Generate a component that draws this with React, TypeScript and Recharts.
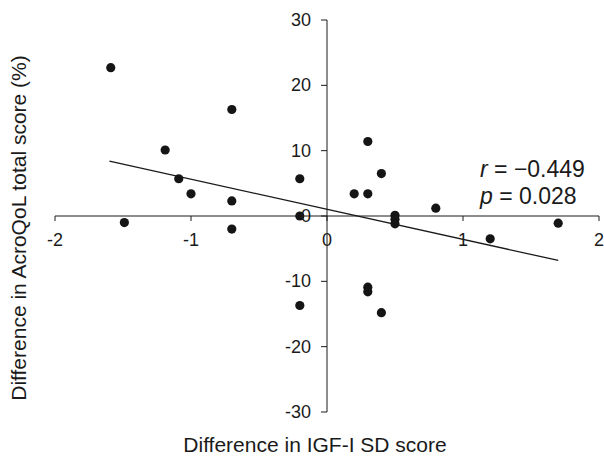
import React from "react";
import {
  ScatterChart,
  Scatter,
  XAxis,
  YAxis,
  ReferenceLine,
} from "recharts";

// values
const igfDiff = [
  -1.59, -0.7, -1.19, -1.09, -1.0, -0.7, -0.2, -0.2, -1.49, -0.7, -0.2, 0.3,
  0.4, 0.2, 0.3, 0.5, 0.8, 1.7, 0.5, 0.5, 1.2, 0.3, 0.3, 0.4,
];
const qolDiff = [
  22.7, 16.3, 10.1, 5.7, 3.4, 2.3, 5.7, 0.0, -1.0, -2.0, -13.7, 11.4, 6.5,
  3.4, 3.4, 0.1, 1.2, -1.1, -0.5, -1.2, -3.5, -10.9, -11.6, -14.8,
];
const fitLine = [
  { x: -1.6, y: 8.4 },
  { x: 1.7, y: -6.8 },
];
const xTicks = [-2, -1, 0, 1, 2];
const yTicks = [-30, -20, -10, 0, 10, 20, 30];
const stats = { r: "\u22120.449", p: "0.028" };

const W = 604;
const H = 457;
const margin = { top: 20, right: 5, bottom: 44, left: 54 };
const X_DOM: [number, number] = [-2, 2];
const Y_DOM: [number, number] = [-30, 30];

// axis strips are 1px each
const plotLeft = margin.left + 1;
const plotW = W - plotLeft - margin.right;
const plotH = H - margin.top - margin.bottom - 1;
// where the axes cross (x = 0, y = 0)
const x0 = plotLeft + (plotW * (0 - X_DOM[0])) / (X_DOM[1] - X_DOM[0]);
const y0 = margin.top + (plotH * (Y_DOM[1] - 0)) / (Y_DOM[1] - Y_DOM[0]);

const FONT = "'Liberation Sans', Arial, sans-serif";
const INK = "#1a1a1a";

const points = igfDiff.map((x, i) => ({ x, y: qolDiff[i] }));

const XTick = (props: any) => {
  const { x, payload } = props;
  return (
    <g>
      <line x1={x} x2={x} y1={y0} y2={y0 + 5} stroke={INK} />
      <text
        x={x}
        y={y0 + 30}
        textAnchor="middle"
        fontSize={18}
        fontFamily={FONT}
        fill={INK}
      >
        {payload.value}
      </text>
    </g>
  );
};

const YTick = (props: any) => {
  const { y, payload } = props;
  return (
    <g>
      <line x1={x0 - 6} x2={x0} y1={y} y2={y} stroke={INK} />
      <text
        x={x0 - 16}
        y={y + 6}
        textAnchor="end"
        fontSize={18}
        fontFamily={FONT}
        fill={INK}
      >
        {payload.value}
      </text>
    </g>
  );
};

const Dot = (props: any) => (
  <circle cx={props.cx} cy={props.cy} r={4.6} fill="#151515" />
);

export default function App() {
  return (
    <div
      style={{
        position: "absolute",
        left: 0,
        top: 0,
        width: W,
        height: H,
        background: "#fff",
        fontFamily: FONT,
        color: INK,
      }}
    >
      <ScatterChart
        width={W}
        height={H}
        margin={margin}
        style={{ overflow: "visible" }}
      >
        <XAxis
          type="number"
          dataKey="x"
          domain={X_DOM}
          ticks={xTicks}
          height={1}
          axisLine={false}
          tickLine={false}
          tick={(p: any) => <XTick {...p} />}
          interval={0}
        />
        <YAxis
          type="number"
          dataKey="y"
          domain={Y_DOM}
          ticks={yTicks}
          width={1}
          axisLine={false}
          tickLine={false}
          tick={(p: any) => <YTick {...p} />}
          interval={0}
        />
        <ReferenceLine y={0} stroke={INK} strokeWidth={1} />
        <ReferenceLine x={0} stroke={INK} strokeWidth={1} />
        <ReferenceLine
          segment={fitLine}
          stroke={INK}
          strokeWidth={1.3}
          ifOverflow="visible"
        />
        <Scatter data={points} shape={<Dot />} isAnimationActive={false} />
      </ScatterChart>

      <div
        style={{
          position: "absolute",
          left: 19 - 200,
          top: 228 - 12,
          width: 400,
          lineHeight: "24px",
          fontSize: 21,
          textAlign: "center",
          transform: "rotate(-90deg)",
          whiteSpace: "nowrap",
        }}
      >
        Difference in AcroQoL total score (%)
      </div>

      <div
        style={{
          position: "absolute",
          left: 315 - 200,
          top: 433,
          width: 400,
          lineHeight: "24px",
          fontSize: 21,
          textAlign: "center",
          whiteSpace: "nowrap",
        }}
      >
        Difference in IGF-I SD score
      </div>

      <div
        style={{
          position: "absolute",
          left: 480,
          top: 156,
          fontSize: 23,
          lineHeight: "27px",
          whiteSpace: "nowrap",
        }}
      >
        <div>
          <i>r</i> = {stats.r}
        </div>
        <div>
          <i>p</i> = {stats.p}
        </div>
      </div>
    </div>
  );
}
